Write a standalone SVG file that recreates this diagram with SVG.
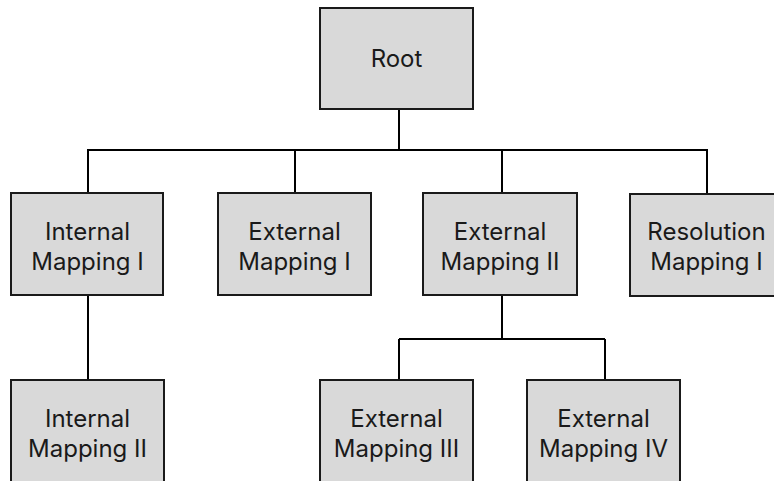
<svg xmlns="http://www.w3.org/2000/svg" width="774" height="481" viewBox="0 0 774 481">
<style>
.box{fill:#d9d9d9;stroke:#1a1a1a;stroke-width:2}
.lbl{font-family:Inter,"Noto Sans",sans-serif;font-size:24px;fill:#1a1a1a;text-anchor:middle}
.conn{fill:none;stroke:#000;stroke-width:2}
</style>
<rect width="774" height="481" fill="#fff"/>
<g id="connectors">
<path class="conn" d="M399 109V150M88 193V150H707V194M295 150V193M502 150V193"/>
<path class="conn" d="M88 295V380"/>
<path class="conn" d="M502 295V339M399 339H605M399 339V380M605 339V380"/>
</g>
<g id="root"><rect class="box" x="320" y="8" width="153" height="101"/><text class="lbl" x="396.5" y="67">Root</text></g>
<g id="internal1"><rect class="box" x="11" y="193" width="152" height="102"/><text class="lbl" x="87.5" y="239.5">Internal</text><text class="lbl" x="87.5" y="269.5">Mapping I</text></g>
<g id="external1"><rect class="box" x="218" y="193" width="153" height="102"/><text class="lbl" x="294.5" y="239.5">External</text><text class="lbl" x="294.5" y="269.5">Mapping I</text></g>
<g id="external2"><rect class="box" x="423" y="193" width="154" height="102"/><text class="lbl" x="500" y="239.5">External</text><text class="lbl" x="500" y="269.5">Mapping II</text></g>
<g id="resolution1"><rect class="box" x="630" y="194" width="153" height="102"/><text class="lbl" x="706.5" y="239.5">Resolution</text><text class="lbl" x="706.5" y="269.5">Mapping I</text></g>
<g id="internal2"><rect class="box" x="11" y="380" width="153" height="102"/><text class="lbl" x="87.5" y="426.5">Internal</text><text class="lbl" x="87.5" y="456.5">Mapping II</text></g>
<g id="external3"><rect class="box" x="320" y="380" width="153" height="102"/><text class="lbl" x="396.5" y="426.5">External</text><text class="lbl" x="396.5" y="456.5">Mapping III</text></g>
<g id="external4"><rect class="box" x="527" y="380" width="153" height="102"/><text class="lbl" x="603.5" y="426.5">External</text><text class="lbl" x="603.5" y="456.5">Mapping IV</text></g>
</svg>
